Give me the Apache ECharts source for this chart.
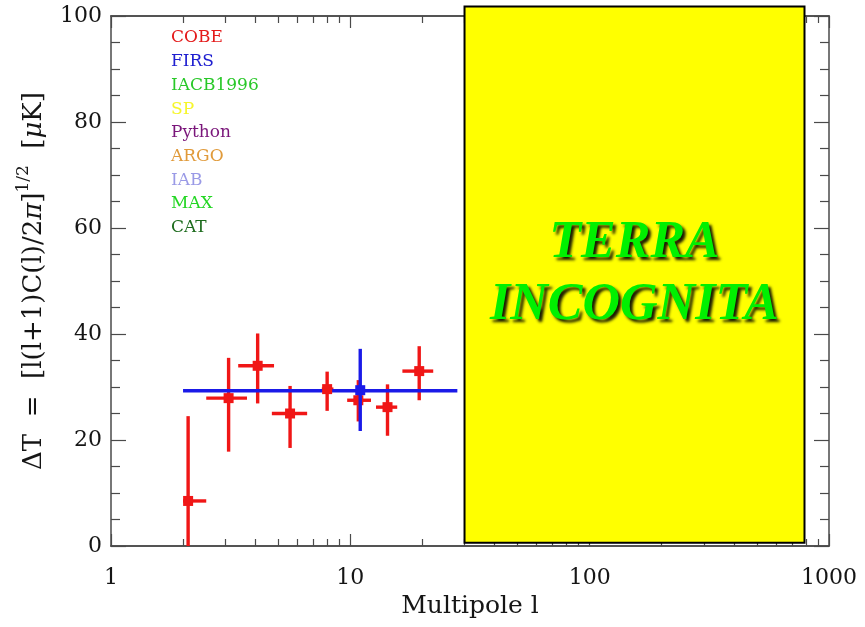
<!DOCTYPE html>
<html>
<head>
<meta charset="utf-8">
<script src="https://cdn.jsdelivr.net/npm/echarts@6/dist/echarts.min.js"></script>
<style>
  html, body { margin: 0; padding: 0; background: #ffffff; }
  #chart { width: 865px; height: 627px; }
</style>
</head>
<body>
<div id="chart"></div>
<script>
// Experiments listed in the key, with their text colours
const experiments = ['COBE', 'FIRS', 'IACB1996', 'SP', 'Python', 'ARGO', 'IAB', 'MAX', 'CAT'];
const experimentColors = ['#e41b1b', '#2020d0', '#28c828', '#f6f62a', '#7a167a', '#e09a3a', '#9a9ae6', '#22d622', '#1d6b1d'];

// COBE band powers: multipole centre, bin edges, ΔT and its error range (μK)
const cobeL    = [2.1, 3.1, 4.1, 5.6, 8.0, 10.8, 14.3, 19.4];
const cobeLmin = [2.0, 2.5, 3.4, 4.7, 7.6, 9.7, 12.8, 16.5];
const cobeLmax = [2.5, 3.7, 4.8, 6.6, 8.5, 12.2, 15.7, 22.2];
const cobeDT   = [8.5, 27.9, 34.0, 25.0, 29.6, 27.5, 26.2, 33.0];
const cobeLo   = [0.0, 17.8, 26.9, 18.5, 25.5, 23.5, 20.8, 27.5];
const cobeHi   = [24.5, 35.5, 40.1, 30.2, 32.9, 31.3, 30.5, 37.7];

// FIRS: single band power and the multipole range it covers
const firsL    = [11.0];
const firsDT   = [29.4];
const firsLo   = [21.7];
const firsHi   = [37.2];
const firsBandLmin = [2.0];
const firsBandLmax = [28.0];
const firsBandDT   = [29.3];

// Unexplored region of multipole space
const unknownL  = [30, 790];
const unknownDT = [0.6, 101.8];
const unknownText = ['TERRA', 'INCOGNITA'];

// Axes
const xMajorTicks = [1, 10, 100, 1000];
const xMinorTicks = [2, 3, 4, 5, 6, 7, 8, 9, 20, 30, 40, 50, 60, 70, 80, 90, 200, 300, 400, 500, 600, 700, 800, 900];
const yTickLabels = [0, 20, 40, 60, 80, 100];

const AXIS_COLOR = '#4a4a4a';
const SERIF = '"DejaVu Serif", "Liberation Serif", serif';
const TEXT = '#151515';
const RED = '#f01616';
const BLUE = '#1a1ae8';

function logX(position, ticks, len, withLabels) {
  return {
    type: 'log', logBase: 10, min: 1, max: 1000, position: position,
    axisLine: { show: true, lineStyle: { color: AXIS_COLOR, width: 1.5 } },
    axisTick: { show: true, inside: true, length: len, customValues: ticks, lineStyle: { color: AXIS_COLOR, width: 1.2 } },
    axisLabel: withLabels ? {
      show: true, customValues: xMajorTicks, margin: 21,
      formatter: v => String(v),
      fontFamily: SERIF, fontSize: 22, color: TEXT
    } : { show: false },
    splitLine: { show: false },
    minorTick: { show: false },
    name: withLabels ? 'Multipole l' : '',
    nameLocation: 'middle', nameGap: 48,
    nameTextStyle: { fontFamily: SERIF, fontSize: 25, color: TEXT }
  };
}

function linY(position, withLabels) {
  return {
    type: 'value', min: 0, max: 100, interval: 20, position: position,
    axisLine: { show: true, lineStyle: { color: AXIS_COLOR, width: 1.5 } },
    axisTick: { show: true, inside: true, length: 15, lineStyle: { color: AXIS_COLOR, width: 1.2 } },
    minorTick: { show: true, splitNumber: 4, length: 9, lineStyle: { color: AXIS_COLOR, width: 1.2 } },
    axisLabel: withLabels ? {
      show: true, customValues: yTickLabels, margin: 9,
      fontFamily: SERIF, fontSize: 22, color: TEXT
    } : { show: false },
    splitLine: { show: false },
    name: withLabels ? '{a|ΔT  =  [l(l+1)C(l)/2}{i|π}{a|]}{s|1/2}{a|  [}{i|μ}{a|K]}' : '',
    nameLocation: 'middle', nameRotate: 90, nameGap: 64,
    nameTextStyle: {
      fontFamily: SERIF, fontSize: 26, color: TEXT,
      rich: {
        a: { fontFamily: SERIF, fontSize: 26, lineHeight: 32, verticalAlign: 'bottom', color: TEXT },
        i: { fontFamily: SERIF, fontSize: 26, fontStyle: 'italic', lineHeight: 32, verticalAlign: 'bottom', color: TEXT },
        s: { fontFamily: SERIF, fontSize: 17, lineHeight: 17, verticalAlign: 'top', color: TEXT }
      }
    }
  };
}

// Error-bar cross: horizontal bin width and vertical ΔT range
function crossRenderer(color, withHorizontal) {
  return function (params, api) {
    const l = api.value(0), dt = api.value(1);
    const top = api.coord([l, api.value(5)]);
    const bottom = api.coord([l, api.value(4)]);
    const children = [{
      type: 'line',
      shape: { x1: top[0], y1: top[1], x2: bottom[0], y2: bottom[1] },
      style: { stroke: color, lineWidth: 3.4 }
    }];
    if (withHorizontal) {
      const left = api.coord([api.value(2), dt]);
      const right = api.coord([api.value(3), dt]);
      children.push({
        type: 'line',
        shape: { x1: left[0], y1: left[1], x2: right[0], y2: right[1] },
        style: { stroke: color, lineWidth: 3.4 }
      });
    }
    return { type: 'group', children: children };
  };
}

const cobeCrossData = cobeL.map((l, i) => [l, cobeDT[i], cobeLmin[i], cobeLmax[i], cobeLo[i], cobeHi[i]]);
const firsCrossData = firsL.map((l, i) => [l, firsDT[i], l, l, firsLo[i], firsHi[i]]);
const firsBandData = firsBandLmin.map((l, i) => [l, firsBandDT[i], firsBandLmax[i]]);

const otherSeries = experiments.slice(2).map(name => ({
  name: name, type: 'line', data: [], xAxisIndex: 0, yAxisIndex: 0
}));

const chart = echarts.init(document.getElementById('chart'), null, { renderer: 'canvas' });

chart.setOption({
  animation: false,
  backgroundColor: '#ffffff',
  grid: { left: 111, right: 36, top: 16, bottom: 81, containLabel: false },
  xAxis: [
    logX('bottom', xMajorTicks, 12, true),
    logX('bottom', xMinorTicks, 7, false),
    logX('top', xMajorTicks, 12, false),
    logX('top', xMinorTicks, 7, false)
  ],
  yAxis: [linY('left', true), linY('right', false)],
  legend: {
    orient: 'vertical', left: 161, top: 23,
    icon: 'none', itemWidth: 0, itemHeight: 14, itemGap: 3.7,
    selectedMode: false,
    textStyle: { fontFamily: SERIF, fontSize: 17, lineHeight: 20 },
    data: experiments.map((n, i) => ({ name: n, textStyle: { color: experimentColors[i] } }))
  },
  series: [
    {
      name: 'COBE', type: 'custom', z: 2,
      renderItem: crossRenderer(RED, true),
      data: cobeCrossData, clip: true
    },
    {
      name: 'FIRS', type: 'custom', z: 3,
      renderItem: function (params, api) {
        const a = api.coord([api.value(0), api.value(1)]);
        const b = api.coord([api.value(2), api.value(1)]);
        return {
          type: 'line',
          shape: { x1: a[0], y1: a[1], x2: b[0], y2: b[1] },
          style: { stroke: BLUE, lineWidth: 3.4 }
        };
      },
      data: firsBandData, clip: true
    },
    {
      name: 'COBE', type: 'scatter', z: 4, symbol: 'rect', symbolSize: 10,
      itemStyle: { color: RED, opacity: 1 },
      data: cobeL.map((l, i) => [l, cobeDT[i]])
    },
    {
      name: 'FIRS', type: 'custom', z: 5,
      renderItem: crossRenderer(BLUE, false),
      data: firsCrossData, clip: true
    },
    {
      name: 'FIRS', type: 'scatter', z: 6, symbol: 'rect', symbolSize: 10,
      itemStyle: { color: BLUE, opacity: 1 },
      data: firsL.map((l, i) => [l, firsDT[i]])
    },
    {
      name: 'unexplored', type: 'custom', z: 10, clip: false,
      renderItem: function (params, api) {
        const p0 = api.coord([api.value(0), api.value(3)]);
        const p1 = api.coord([api.value(1), api.value(2)]);
        return {
          type: 'group',
          children: [
            {
              type: 'rect',
              shape: { x: p0[0], y: p0[1], width: p1[0] - p0[0], height: p1[1] - p0[1] },
              style: { fill: '#ffff00', stroke: '#000000', lineWidth: 2 }
            },
            {
              type: 'text',
              x: (p0[0] + p1[0]) / 2,
              y: (p0[1] + p1[1]) / 2,
              style: {
                text: unknownText.join('\n'),
                font: 'italic bold 52px "Liberation Serif", "DejaVu Serif", serif',
                fill: '#00f000',
                align: 'center', verticalAlign: 'middle', lineHeight: 62,
                textShadowColor: 'rgba(0,0,0,0.9)', textShadowBlur: 3,
                textShadowOffsetX: 3, textShadowOffsetY: 3
              }
            }
          ]
        };
      },
      data: [[unknownL[0], unknownL[1], unknownDT[0], unknownDT[1]]]
    }
  ].concat(otherSeries)
});
</script>
</body>
</html>
